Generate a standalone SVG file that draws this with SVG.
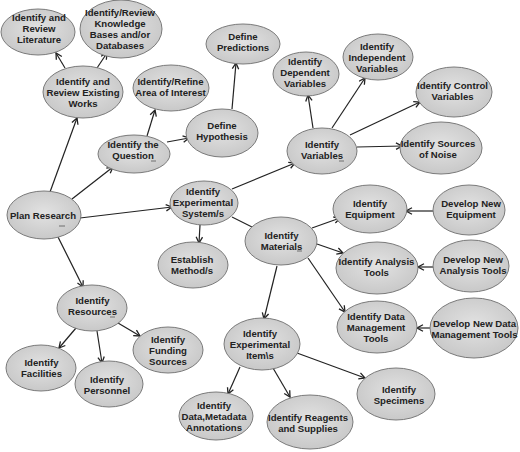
<svg xmlns="http://www.w3.org/2000/svg" width="520" height="452" viewBox="0 0 520 452">
<defs>
<radialGradient id="g" cx="50%" cy="45%" r="60%">
<stop offset="0" stop-color="#e2e2e2"/>
<stop offset="1" stop-color="#c6c6c6"/>
</radialGradient>
<marker id="a" markerWidth="8" markerHeight="8" refX="7" refY="4" orient="auto" markerUnits="userSpaceOnUse">
<path d="M1,0.8 L7,4 L1,7.2" fill="none" stroke="#222" stroke-width="1.3"/>
</marker>
<style>
ellipse{fill:url(#g);stroke:#7a7a7a;stroke-width:1}
text{font-family:"Liberation Sans",Arial,sans-serif;font-weight:bold;font-size:9.6px;fill:#222;text-anchor:middle}
.e line{stroke:#222;stroke-width:1.2}
.e line.ar{marker-end:url(#a)}
.m line{stroke:#555;stroke-width:0.8}
</style>
</defs>
<rect width="520" height="452" fill="#fff"/>
<g class="e" id="connectors">
<line class="ar" x1="65" y1="68" x2="56" y2="53"/>
<line class="ar" x1="97" y1="68" x2="107" y2="53"/>
<line class="ar" x1="50" y1="192" x2="77" y2="118"/>
<line class="ar" x1="72" y1="199" x2="113" y2="167"/>
<line class="ar" x1="80" y1="218" x2="172" y2="207"/>
<line class="ar" x1="58" y1="237" x2="83" y2="287"/>
<line class="ar" x1="147" y1="136" x2="155" y2="110"/>
<line class="ar" x1="167" y1="142" x2="189" y2="138"/>
<line class="ar" x1="232" y1="109" x2="236" y2="63"/>
<line class="ar" x1="232" y1="189" x2="295" y2="163"/>
<line class="ar" x1="200" y1="225" x2="199" y2="243"/>
<line x1="232" y1="217" x2="252" y2="227"/>
<line class="ar" x1="313" y1="128" x2="308" y2="95"/>
<line class="ar" x1="332" y1="128" x2="365" y2="78"/>
<line class="ar" x1="350" y1="135" x2="420" y2="102"/>
<line class="ar" x1="357" y1="147" x2="402" y2="146"/>
<line class="ar" x1="312" y1="228" x2="340" y2="218"/>
<line class="ar" x1="317" y1="244" x2="343" y2="253"/>
<line class="ar" x1="308" y1="258" x2="345" y2="312"/>
<line class="ar" x1="277" y1="266" x2="264" y2="319"/>
<line class="ar" x1="434" y1="211" x2="406" y2="211"/>
<line class="ar" x1="434" y1="267" x2="418" y2="267"/>
<line class="ar" x1="430" y1="328" x2="417" y2="328"/>
<line class="ar" x1="240" y1="367" x2="228" y2="394"/>
<line class="ar" x1="273" y1="368" x2="290" y2="397"/>
<line class="ar" x1="297" y1="353" x2="365" y2="378"/>
<line class="ar" x1="76" y1="328" x2="59" y2="348"/>
<line class="ar" x1="97" y1="331" x2="102" y2="363"/>
<line class="ar" x1="118" y1="323" x2="140" y2="336"/>
</g>
<g id="n-literature"><ellipse cx="38" cy="32" rx="37" ry="23"/><text x="39" y="20.5">Identify and</text><text x="39" y="31.5">Review</text><text x="39" y="42.5">Literature</text></g>
<g id="n-knowledge"><ellipse cx="121" cy="29" rx="41" ry="29"/><text x="120" y="15.5">Identify/Review</text><text x="120" y="26.5">Knowledge</text><text x="120" y="37.5">Bases and/or</text><text x="120" y="48.5">Databases</text></g>
<g id="n-existing"><ellipse cx="83" cy="92" rx="40" ry="26"/><text x="83" y="84.5">Identify and</text><text x="83" y="95.5">Review Existing</text><text x="83" y="106.5">Works</text></g>
<g id="n-predictions"><ellipse cx="243" cy="44" rx="37" ry="20"/><text x="243" y="40">Define</text><text x="243" y="51">Predictions</text></g>
<g id="n-area"><ellipse cx="171" cy="88" rx="38" ry="23"/><text x="170.5" y="85">Identify/Refine</text><text x="170.5" y="96">Area of Interest</text></g>
<g id="n-hypothesis"><ellipse cx="222" cy="133" rx="36" ry="24"/><text x="222" y="129">Define</text><text x="222" y="140">Hypothesis</text></g>
<g id="n-question"><ellipse cx="134" cy="154" rx="36" ry="19"/><text x="133" y="148">Identify the</text><text x="133" y="159">Question</text></g>
<g id="n-dependent"><ellipse cx="306" cy="74" rx="33" ry="22"/><text x="305" y="65">Identify</text><text x="305" y="76">Dependent</text><text x="305" y="87">Variables</text></g>
<g id="n-independent"><ellipse cx="378" cy="57" rx="35" ry="23"/><text x="377" y="50">Identify</text><text x="377" y="61">Independent</text><text x="377" y="72">Variables</text></g>
<g id="n-control"><ellipse cx="454" cy="92" rx="38" ry="25"/><text x="452.5" y="89">Identify Control</text><text x="452.5" y="100">Variables</text></g>
<g id="n-noise"><ellipse cx="441" cy="148" rx="41" ry="26"/><text x="438" y="147">Identify Sources</text><text x="438" y="158">of Noise</text></g>
<g id="n-variables"><ellipse cx="322" cy="151" rx="35" ry="23"/><text x="322" y="148">Identify</text><text x="322" y="159">Variables</text></g>
<g id="n-plan"><ellipse cx="44" cy="215" rx="37" ry="24"/><text x="43" y="219">Plan Research</text></g>
<g id="n-system"><ellipse cx="204" cy="203" rx="34" ry="22"/><text x="203" y="195">Identify</text><text x="203" y="206">Experimental</text><text x="203" y="217">System/s</text></g>
<g id="n-method"><ellipse cx="193" cy="265" rx="35" ry="23"/><text x="192" y="263">Establish</text><text x="192" y="274">Method/s</text></g>
<g id="n-materials"><ellipse cx="281" cy="241" rx="36" ry="24"/><text x="281.5" y="239">Identify</text><text x="281.5" y="250">Materials</text></g>
<g id="n-equipment"><ellipse cx="370" cy="209" rx="37" ry="24"/><text x="370" y="207">Identify</text><text x="370" y="218">Equipment</text></g>
<g id="n-devequip"><ellipse cx="469" cy="210" rx="36" ry="25"/><text x="471" y="207">Develop New</text><text x="471" y="218">Equipment</text></g>
<g id="n-analysis"><ellipse cx="377" cy="268" rx="41" ry="26"/><text x="376.5" y="265">Identify Analysis</text><text x="376.5" y="276">Tools</text></g>
<g id="n-devanalysis"><ellipse cx="471" cy="266" rx="38" ry="26"/><text x="473" y="263">Develop New</text><text x="473" y="274">Analysis Tools</text></g>
<g id="n-datamgmt"><ellipse cx="377" cy="327" rx="40" ry="26"/><text x="376" y="320">Identify Data</text><text x="376" y="331">Management</text><text x="376" y="342">Tools</text></g>
<g id="n-devdm"><ellipse cx="474" cy="328" rx="44" ry="30"/><text x="474.5" y="327">Develop New Data</text><text x="474.5" y="338">Management Tools</text></g>
<g id="n-items"><ellipse cx="262" cy="344" rx="38" ry="26"/><text x="260" y="337">Identify</text><text x="260" y="348">Experimental</text><text x="260" y="359">Item\s</text></g>
<g id="n-specimens"><ellipse cx="396" cy="394" rx="39" ry="26"/><text x="399" y="393">Identify</text><text x="399" y="404">Specimens</text></g>
<g id="n-reagents"><ellipse cx="310" cy="422" rx="43" ry="27"/><text x="308" y="421">Identify Reagents</text><text x="308" y="432">and Supplies</text></g>
<g id="n-metadata"><ellipse cx="216" cy="416" rx="37" ry="24"/><text x="214" y="409">Identify</text><text x="214" y="420">Data,Metadata</text><text x="214" y="431">Annotations</text></g>
<g id="n-resources"><ellipse cx="92" cy="308" rx="35" ry="23"/><text x="92.5" y="304">Identify</text><text x="92.5" y="315">Resources</text></g>
<g id="n-facilities"><ellipse cx="41" cy="368" rx="35" ry="23"/><text x="41.5" y="366">Identify</text><text x="41.5" y="377">Facilities</text></g>
<g id="n-personnel"><ellipse cx="109" cy="384" rx="34" ry="23"/><text x="107" y="383">Identify</text><text x="107" y="394">Personnel</text></g>
<g id="n-funding"><ellipse cx="168" cy="350" rx="35" ry="23"/><text x="168" y="343">Identify</text><text x="168" y="354">Funding</text><text x="168" y="365">Sources</text></g>
<g class="m" id="marks">
<line x1="59" y1="226" x2="65" y2="226"/>
<line x1="151" y1="161" x2="156" y2="161"/>
<line x1="339" y1="161" x2="344" y2="161"/>
<line x1="297" y1="251" x2="302" y2="251"/>
<line x1="110" y1="317" x2="115" y2="317"/>
</g>
</svg>
